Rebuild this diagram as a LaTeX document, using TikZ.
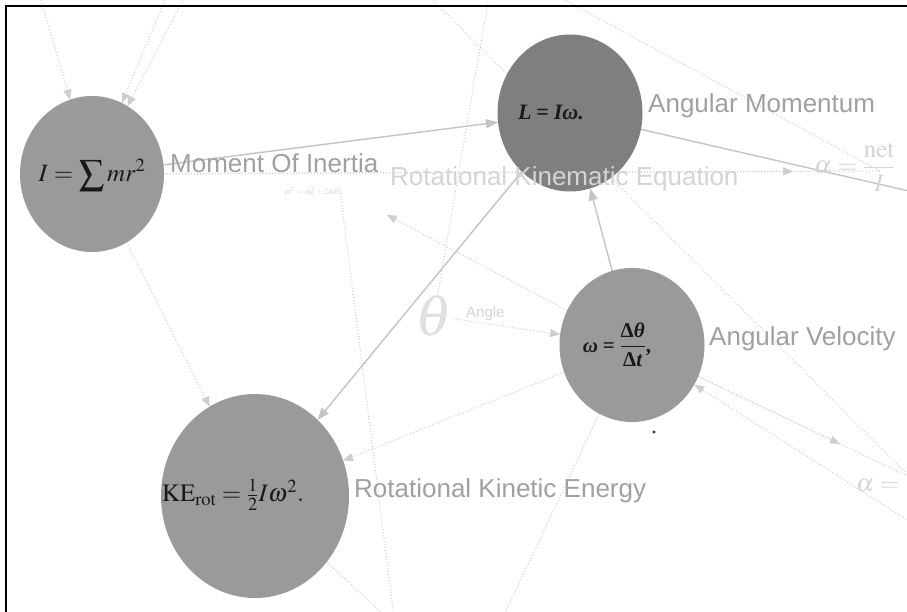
\documentclass[tikz,border=0pt]{standalone}
\usepackage{amsmath}
\usepackage{mathptmx}
\usepackage{fontspec}
\setmainfont{Liberation Serif}
\newfontfamily\labfont{Liberation Sans}
\usetikzlibrary{shapes.geometric,arrows.meta,calc}
\definecolor{circ}{HTML}{9A9A9A}
\definecolor{circd}{HTML}{7F7F7F}
\definecolor{lbl}{HTML}{A0A0A0}
\definecolor{faint}{HTML}{D4D4D4}
\definecolor{veryfaint}{HTML}{E0E0E0}
\definecolor{edgec}{HTML}{C4C4C4}
\definecolor{dotc}{HTML}{CECECE}
\pgfdeclarelayer{bg}
\pgfsetlayers{bg,main}
\newcommand{\bi}[1]{\text{\bfseries\itshape #1}}
\newcommand{\bu}[1]{\text{\bfseries #1}}
\tikzset{
  bubble/.style={ellipse, fill=circ, inner sep=0pt, outer sep=0pt},
  conceptlabel/.style={font=\labfont\fontsize{26}{30}\selectfont, text=lbl, anchor=base west, inner sep=0pt},
  formula/.style={text=black!90, inner sep=0pt},
  ghost/.style={text=faint, inner sep=0pt},
  solidedge/.style={draw=edgec, line width=1.4pt, -{Triangle[length=12pt,width=9pt]}},
  dotedge/.style={draw=dotc, line width=1pt, dash pattern=on 1pt off 2pt, -{Triangle[length=10pt,width=8pt]}},
  dotplain/.style={draw=dotc, line width=1pt, dash pattern=on 1pt off 2pt},
}
\begin{document}
\begin{tikzpicture}[x=1pt,y=-1pt]
\useasboundingbox (0,0) rectangle (907,612);

% concept bubbles
\node[bubble, minimum width=144, minimum height=156] (I) at (92,174) {};
\node[bubble, fill=circd, minimum width=145, minimum height=157] (L) at (570,113) {};
\node[bubble, minimum width=145, minimum height=154] (w) at (632,345) {};
\node[bubble, minimum width=188, minimum height=204] (KE) at (255,496) {};

% formulas in bubbles
\node[formula, font=\fontsize{25}{30}\selectfont] (If) at (92,175) {$I=\displaystyle\sum mr^2$};
\node[formula, font=\fontsize{22}{26}\selectfont] (Lf) at (551,112) {$\bi{L}\mathrel{\bu{=}}\bi{Iω.}$};
\node[formula, font=\fontsize{21}{25}\selectfont] (wf) at (617,345) {$\bi{ω}\mathrel{\bu{=}}\dfrac{\bu{Δ}\bi{θ}}{\bu{Δ}\bi{t}}\bu{,}$};
\node[formula, font=\fontsize{25}{30}\selectfont] (KEf) at (233,495) {$\mathrm{KE}_{\mathrm{rot}}=\tfrac{1}{2}I\omega^2.$};

% labels
\node[conceptlabel] (Ilab) at (170,173) {Moment Of Inertia};
\node[conceptlabel] (Llab) at (648,113) {Angular Momentum};
\node[conceptlabel, text=faint] (kinlab) at (390,186) {Rotational Kinematic Equation};
\node[conceptlabel] (wlab) at (709,345) {Angular Velocity};
\node[conceptlabel] (KElab) at (354,497) {Rotational Kinetic Energy};

% faint nodes
\coordinate (kin) at (340,190);
\node[ghost, font=\fontsize{8.5}{9}\selectfont] (kinf) at (312,192) {$\omega^2=\omega_0^2+2\alpha\theta$};
\node[ghost, text=veryfaint, font=\fontsize{58}{60}\selectfont] (th) at (434,316) {$\theta$};
\node[ghost, font=\labfont\fontsize{15}{16}\selectfont, anchor=base west] (anglelab) at (466,317) {Angle};
\node[ghost, font=\fontsize{25}{28}\selectfont, anchor=base west] (a1) at (814,174) {$\alpha=\dfrac{\mathrm{net}}{I}$};
\coordinate (a1c) at (880,171);
\node[ghost, font=\fontsize{25}{28}\selectfont, anchor=base west] (a2) at (856,491) {$\alpha=$};
\fill[black!80] (654,432) circle (1.6) coordinate (dot);

% off-picture ends
\coordinate (t1) at (35,-20);
\coordinate (t2) at (165,0);
\coordinate (t3) at (183,0);
\coordinate (t4) at (490,-10);
\coordinate (t5) at (425,-8);
\coordinate (t6) at (565,0);
\coordinate (oR) at (1000,212);
\coordinate (oA) at (1000,520);
\coordinate (oB) at (1000,579);
\coordinate (oC) at (1000,567);
\coordinate (bot1) at (395,625);
\coordinate (bot2) at (492,640);

\begin{pgfonlayer}{bg}
  \fill[white] (0,0) rectangle (907,612);
  % dotted connectors
  \draw[dotedge] (t1) -- (I);
  \draw[dotedge] (t2) -- (I);
  \draw[dotedge] (t3) -- (I);
  \draw[dotedge] (I) -- (KE);
  \draw[dotplain] (I) -- (a1c);
  \draw[dotedge, shorten >=87pt] (I) -- (a1c);
  \draw[dotedge, shorten >=53pt] (w) -- (kin);
  \draw[dotplain] (kin) -- (bot1);
  \draw[dotplain] (KE) -- (bot1);
  \draw[dotedge] (th) -- (w);
  \draw[dotplain] (t4) -- (th);
  \draw[dotplain] (t5) -- (oC);
  \draw[dotplain] (t6) -- (a1c);
  \draw[dotedge] (w) -- (KE);
  \draw[dotplain] (w) -- (bot2);
  \draw[dotplain] (w) -- (oA);
  \draw[dotedge] (w) -- ($(w)!0.565!(oA)$);
  \draw[dotedge] (oB) -- (w);
  % solid connectors
  \draw[solidedge] (I) -- (L);
  \draw[draw=edgec, line width=1.4pt] (L) -- (oR);
  \draw[solidedge] (L) -- (KE);
  \draw[solidedge] (w) -- (L);
\end{pgfonlayer}

% frame
\draw[black, line width=2pt] (6,6) rectangle (960,660);
\end{tikzpicture}
\end{document}
